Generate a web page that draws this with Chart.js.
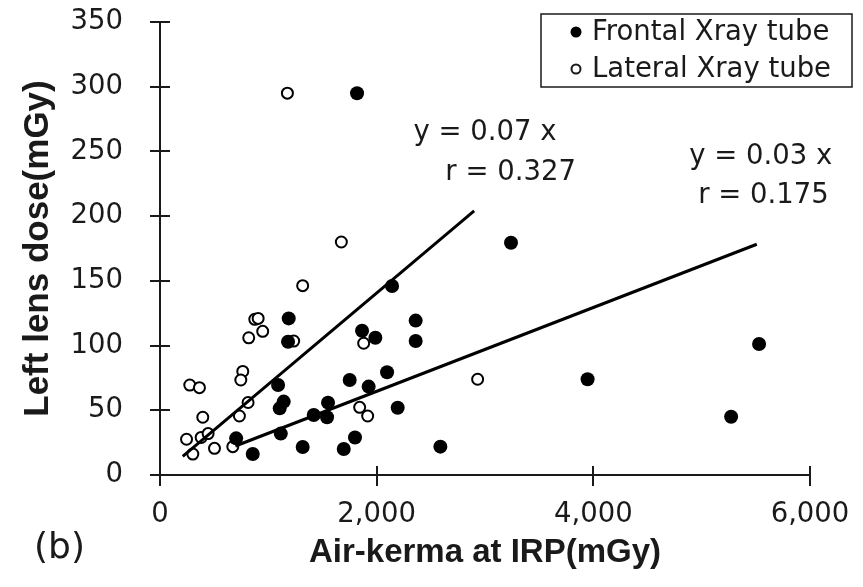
<!DOCTYPE html>
<html>
<head>
<meta charset="utf-8">
<script src="https://cdn.jsdelivr.net/npm/chart.js@4.4.0/dist/chart.umd.min.js"></script>
<style>
  html, body { margin: 0; padding: 0; background: #fff; }
  #wrap { width: 863px; height: 587px; position: relative; }
  canvas { display: block; }
</style>
</head>
<body>
<div id="wrap"><canvas id="chart" width="863" height="587"></canvas></div>
<script>
// Left lens dose vs air-kerma at IRP, panel (b)

const frontalX = [1188, 1182, 1090, 1142, 1105, 1115, 703, 856, 1317, 1819, 2142, 1865, 1988, 2360, 2360,
  1751, 1926, 2096, 1551, 1419, 1542, 2194, 1696, 1800, 2588, 3240, 3947, 5530, 5272];
const frontalY = [121, 103, 69.5, 56.7, 51.5, 32, 28.3, 16.2, 21.6, 295, 146, 111.5, 106, 119.3, 103.5,
  73.4, 68.3, 79.4, 55.9, 46.4, 44.6, 52, 20.1, 29, 21.9, 179.5, 74, 101.2, 45];

const lateralX = [875, 906, 819, 948, 1234, 764, 746, 275, 364, 813, 733, 395, 245, 380, 444, 303, 503, 672,
  1317, 1880, 1843, 1917, 2932, 1176, 1674];
const lateralY = [120.3, 121, 106, 111, 103.5, 80, 73.4, 69.5, 67.5, 56, 45.6, 44.6, 27.6, 29, 32, 16.2, 20.6, 21.9,
  146.3, 101.8, 52.3, 45.6, 74, 295, 180];

// regression line end points
const fitAX = [210, 2900];
const fitAY = [14.4, 204];
const fitBX = [696, 5509];
const fitBY = [22.4, 178.3];

// equation labels: text and anchor in data units
const fitALabels = ['y = 0.07 x', 'r = 0.327'];
const fitALabelX = [2339, 2634];
const fitALabelY = [264, 233.4];
const fitBLabels = ['y = 0.03 x', 'r = 0.175'];
const fitBLabelX = [4885, 4968];
const fitBLabelY = [245.7, 215.6];

const xTicks = [0, 2000, 4000, 6000];
const yTicks = [0, 50, 100, 150, 200, 250, 300, 350];

const FONT = 'DejaVu Sans';
const INK = '#1a1a1a';

function pts(xs, ys) {
  return xs.map((x, i) => ({ x: x, y: ys[i] }));
}

// cross ticks on both axes
const crossTicks = {
  id: 'crossTicks',
  afterDraw(chart) {
    const { ctx, scales: { x, y }, chartArea } = chart;
    ctx.save();
    ctx.strokeStyle = INK;
    ctx.lineWidth = 2;
    ctx.beginPath();
    xTicks.forEach(v => {
      const px = Math.round(x.getPixelForValue(v));
      ctx.moveTo(px, chartArea.bottom - 9);
      ctx.lineTo(px, chartArea.bottom + 11);
    });
    yTicks.forEach(v => {
      const py = Math.round(y.getPixelForValue(v));
      ctx.moveTo(chartArea.left - 10, py);
      ctx.lineTo(chartArea.left + 10, py);
    });
    ctx.stroke();
    ctx.restore();
  }
};

// equation text, framed legend and panel letter
const extras = {
  id: 'extras',
  afterDraw(chart) {
    const { ctx, scales: { x, y } } = chart;
    ctx.save();
    ctx.fillStyle = INK;
    ctx.font = '27.5px "' + FONT + '"';
    ctx.textAlign = 'left';
    ctx.textBaseline = 'middle';
    fitALabels.forEach((t, i) => {
      ctx.fillText(t, x.getPixelForValue(fitALabelX[i]), y.getPixelForValue(fitALabelY[i]));
    });
    fitBLabels.forEach((t, i) => {
      ctx.fillText(t, x.getPixelForValue(fitBLabelX[i]), y.getPixelForValue(fitBLabelY[i]));
    });

    // legend box
    const bx = 541, by = 14, bw = 311, bh = 73;
    ctx.lineWidth = 1.5;
    ctx.strokeStyle = INK;
    ctx.strokeRect(bx, by, bw, bh);
    const rows = [chart.data.datasets[0], chart.data.datasets[1]];
    rows.forEach((ds, i) => {
      const cy = by + 18 + i * 37;
      ctx.beginPath();
      ctx.arc(bx + 35, cy, ds.pointBorderWidth ? 4.5 : 5.5, 0, Math.PI * 2);
      ctx.fillStyle = ds.pointBackgroundColor;
      ctx.fill();
      if (ds.pointBorderWidth) {
        ctx.lineWidth = 2;
        ctx.strokeStyle = INK;
        ctx.stroke();
      }
      ctx.fillStyle = INK;
      ctx.fillText(ds.label, bx + 51, cy + 1);
    });

    ctx.font = '36px "' + FONT + '"';
    ctx.fillText('(b)', 34, 549);
    ctx.restore();
  }
};

new Chart(document.getElementById('chart'), {
  type: 'scatter',
  data: {
    datasets: [
      {
        label: 'Frontal Xray tube',
        data: pts(frontalX, frontalY),
        pointRadius: 7,
        pointBackgroundColor: '#000',
        pointBorderWidth: 0,
        pointBorderColor: '#000',
        order: 2,
      },
      {
        label: 'Lateral Xray tube',
        data: pts(lateralX, lateralY),
        pointRadius: 5.5,
        pointBackgroundColor: '#fff',
        pointBorderWidth: 2,
        pointBorderColor: '#000',
        order: 3,
      },
      {
        label: 'fit lateral',
        data: pts(fitAX, fitAY),
        showLine: true,
        borderColor: '#000',
        borderWidth: 3,
        pointRadius: 0,
        order: 1,
      },
      {
        label: 'fit frontal',
        data: pts(fitBX, fitBY),
        showLine: true,
        borderColor: '#000',
        borderWidth: 3,
        pointRadius: 0,
        order: 1,
      },
    ],
  },
  options: {
    responsive: false,
    animation: false,
    devicePixelRatio: 1,
    layout: { padding: { left: 0, top: 22, right: 53, bottom: 0 } },
    plugins: {
      legend: { display: false },
      tooltip: { enabled: false },
    },
    scales: {
      x: {
        type: 'linear',
        min: 0,
        max: 6000,
        afterFit: s => {
          s.height = 112;
          s.paddingLeft = 0; s.paddingRight = 0; s.paddingTop = 0; s.paddingBottom = 0;
        },
        afterBuildTicks: s => { s.ticks = xTicks.map(v => ({ value: v })); },
        grid: { display: true, drawOnChartArea: false, drawTicks: false },
        border: { display: true, color: INK, width: 2 },
        ticks: {
          padding: 23,
          color: INK,
          font: { family: FONT, size: 27.5 },
          maxRotation: 0,
          callback: v => v.toLocaleString('en-US'),
        },
        title: {
          display: true,
          text: 'Air-kerma at IRP(mGy)',
          color: INK,
          font: { family: 'Liberation Sans', size: 33, weight: 'bold' },
          padding: { top: 0, bottom: 14 },
        },
      },
      y: {
        type: 'linear',
        min: 0,
        max: 350,
        afterFit: s => {
          s.width = 160;
          s.paddingLeft = 0; s.paddingRight = 0; s.paddingTop = 0; s.paddingBottom = 0;
        },
        afterBuildTicks: s => { s.ticks = yTicks.map(v => ({ value: v })); },
        grid: { display: true, drawOnChartArea: false, drawTicks: false },
        border: { display: true, color: INK, width: 2 },
        ticks: {
          padding: 37,
          color: INK,
          font: { family: FONT, size: 27.5 },
        },
        title: {
          display: true,
          text: 'Left lens dose(mGy)',
          color: INK,
          font: { family: 'Liberation Sans', size: 35, weight: 'bold' },
          padding: { top: 17, bottom: 0 },
        },
      },
    },
  },
  plugins: [crossTicks, extras],
});
</script>
</body>
</html>
